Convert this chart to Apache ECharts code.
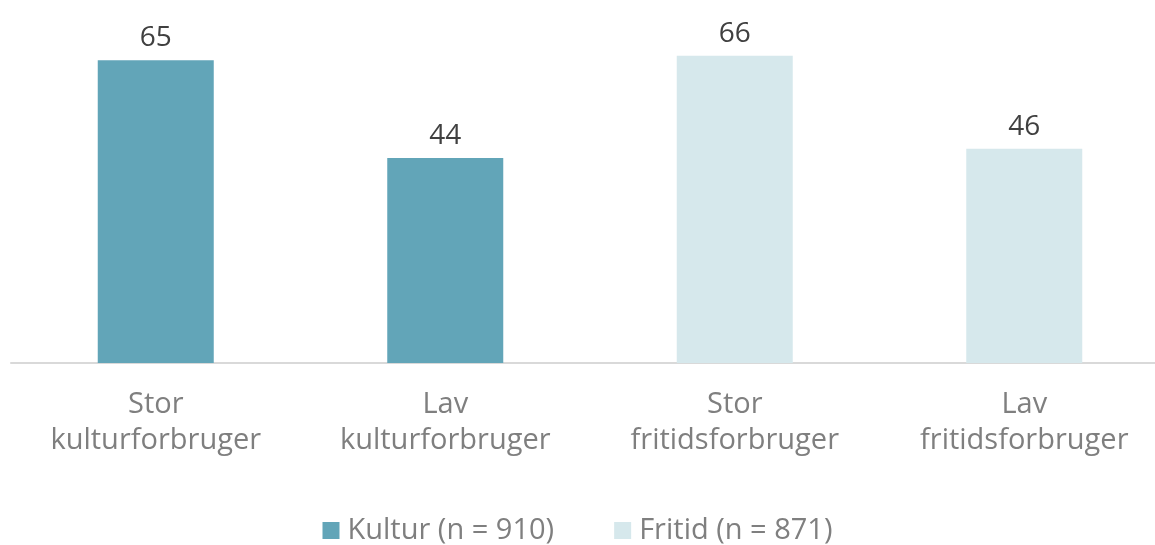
<!DOCTYPE html>
<html>
<head>
<meta charset="utf-8">
<script src="https://cdn.jsdelivr.net/npm/echarts@6/dist/echarts.min.js"></script>
<style>
  html, body { margin: 0; padding: 0; background: #fff; }
  #chart { width: 1155px; height: 545px; }
</style>
</head>
<body>
<div id="chart"></div>
<script>
const categories = ['Stor\nkulturforbruger', 'Lav\nkulturforbruger', 'Stor\nfritidsforbruger', 'Lav\nfritidsforbruger']
const kulturValues = [65, 44, null, null]
const fritidValues = [null, null, 66, 46]
const seriesNames = ['Kultur (n = 910)', 'Fritid (n = 871)']

const font = "'Open Sans', 'Noto Sans', sans-serif"
const chart = echarts.init(document.getElementById('chart'))

const barLabel = {
  show: true,
  position: 'top',
  distance: 8,
  color: '#404040',
  fontSize: 28,
  fontFamily: font
}

const option = {
  animation: false,
  color: ['#62A5B8', '#D6E8EC'],
  grid: { left: 11, width: 1158, top: 37, bottom: 182, outerBoundsMode: 'none' },
  legend: {
    bottom: -5,
    left: 'center',
    itemWidth: 17,
    itemHeight: 17,
    itemGap: 60,
    icon: 'rect',
    textStyle: { color: '#7f7f7f', fontSize: 29, fontFamily: font, padding: [0, 0, 0, 3] },
    data: seriesNames
  },
  xAxis: {
    type: 'category',
    data: categories,
    axisTick: { show: false },
    axisLine: { lineStyle: { color: '#d9d9d9', width: 2 } },
    axisLabel: {
      color: '#7f7f7f',
      fontSize: 29,
      lineHeight: 36,
      margin: 24,
      fontFamily: font,
      interval: 0
    }
  },
  yAxis: {
    type: 'value',
    min: 0,
    max: 70,
    show: false
  },
  series: [
    {
      name: seriesNames[0],
      type: 'bar',
      stack: 'all',
      barWidth: 116,
      data: kulturValues,
      label: barLabel
    },
    {
      name: seriesNames[1],
      type: 'bar',
      stack: 'all',
      barWidth: 116,
      data: fritidValues,
      label: barLabel
    }
  ]
}

chart.setOption(option)
</script>
</body>
</html>
